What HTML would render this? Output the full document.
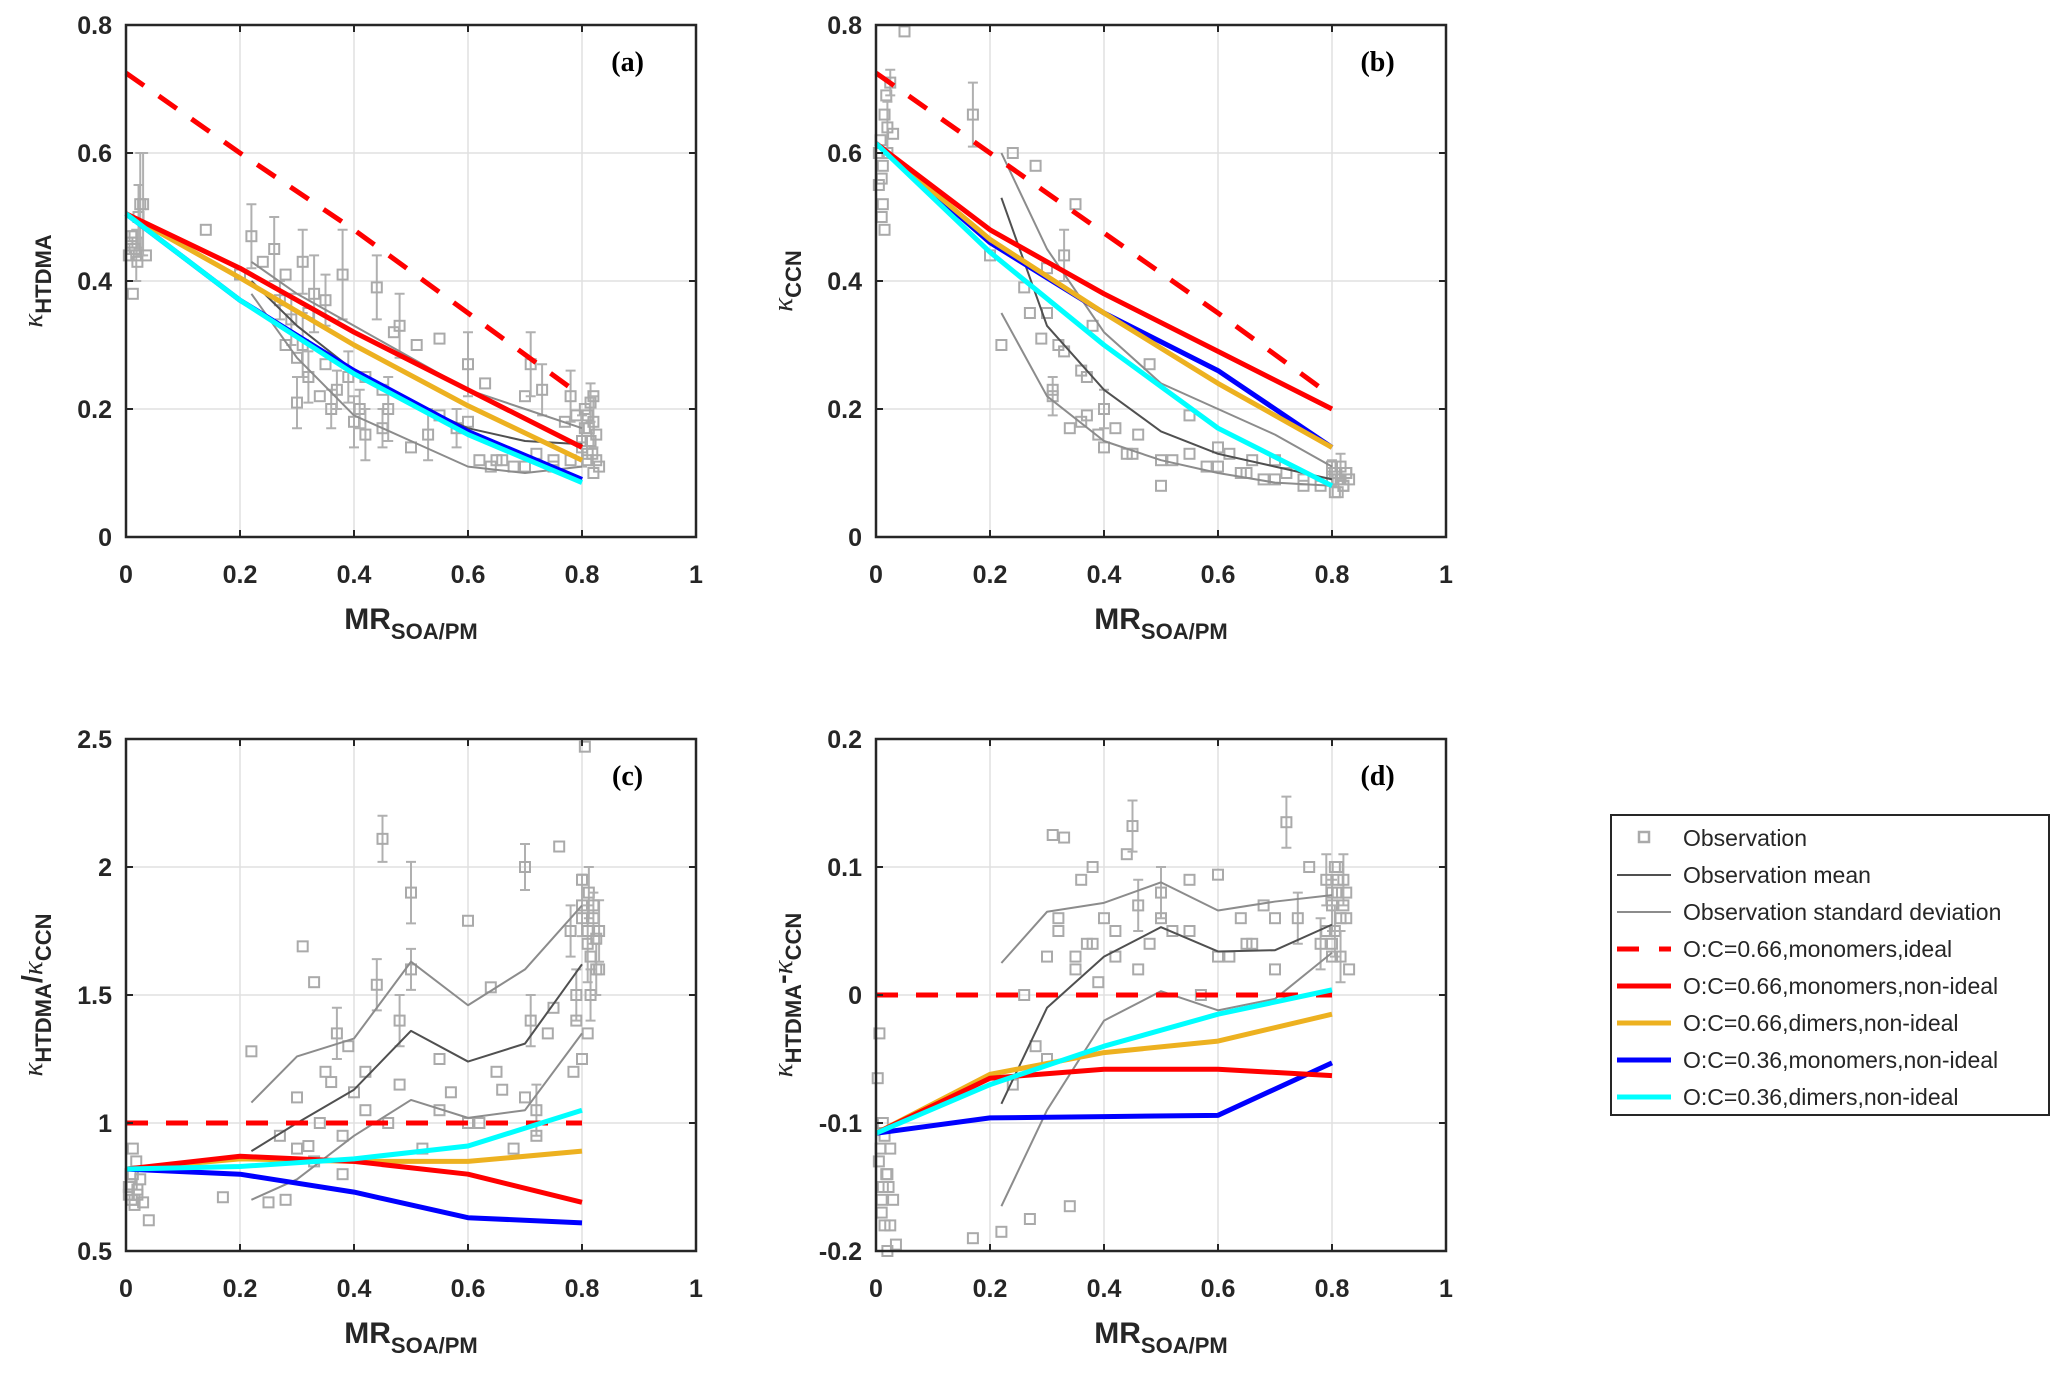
<!DOCTYPE html>
<html><head><meta charset="utf-8"><style>
html,body{margin:0;padding:0;background:#fff;}
svg{display:block;font-family:"Liberation Sans",Arial,sans-serif;}
</style></head><body>
<svg id="fig" width="2067" height="1374" viewBox="0 0 2067 1374" xmlns="http://www.w3.org/2000/svg"></svg>
<script>
const modelX=[0,0.2,0.4,0.6,0.8];
const statX=[0.22,0.3,0.4,0.5,0.6,0.7,0.8];
// panel a
const aIdeal=[0.725,0.6,0.48,0.35,0.22];
const aRed=[0.505,0.42,0.32,0.23,0.14];
const aOrange=[0.505,0.405,0.30,0.205,0.12];
const aBlue=[0.505,0.37,0.26,0.165,0.09];
const aCyan=[0.505,0.37,0.255,0.16,0.085];
const aMean=[0.40,0.33,0.26,0.21,0.17,0.15,0.145];
const aUp=[0.43,0.38,0.33,0.28,0.23,0.20,0.17];
const aLo=[0.38,0.28,0.19,0.15,0.11,0.10,0.11];
const aObsX=[0.01,0.012,0.015,0.018,0.02,0.022,0.025,0.03,0.035,0.14,0.2,0.22,0.24,0.26,0.27,0.28,0.29,0.3,0.31,0.31,0.32,0.33,0.34,0.35,0.36,0.37,0.38,0.39,0.4,0.41,0.42,0.44,0.45,0.46,0.47,0.48,0.5,0.51,0.53,0.55,0.58,0.6,0.62,0.63,0.64,0.66,0.68,0.7,0.71,0.72,0.73,0.75,0.77,0.78,0.79,0.8,0.805,0.81,0.812,0.815,0.818,0.82,0.825,0.83,
 0.8,0.81,0.82,0.815,0.825,0.805,0.82,0.81,0.005,0.01,0.015,0.02,0.01,0.28,0.3,0.32,0.35,0.42,0.45,0.55,0.6,0.65,0.7,0.75,0.78];
const aObsY=[0.45,0.38,0.47,0.44,0.46,0.5,0.52,0.52,0.44,0.48,0.41,0.47,0.43,0.45,0.37,0.41,0.34,0.21,0.3,0.43,0.25,0.38,0.22,0.37,0.2,0.23,0.41,0.25,0.18,0.2,0.16,0.39,0.17,0.2,0.32,0.33,0.14,0.3,0.16,0.31,0.17,0.27,0.12,0.24,0.11,0.12,0.11,0.22,0.27,0.13,0.23,0.11,0.18,0.22,0.19,0.15,0.2,0.12,0.17,0.21,0.13,0.18,0.16,0.11,
 0.14,0.19,0.22,0.15,0.12,0.17,0.1,0.13,0.44,0.46,0.45,0.43,0.47,0.3,0.28,0.35,0.27,0.25,0.23,0.19,0.18,0.12,0.11,0.12,0.12];
const aErr=[0,0,0,0.04,0,0.05,0.08,0.08,0,0,0,0.05,0,0.05,0.03,0,0.04,0.04,0.05,0.05,0.04,0.06,0,0.04,0.03,0.03,0.07,0.04,0.04,0.03,0.04,0.05,0.03,0.05,0,0.05,0,0,0.04,0,0.03,0.05,0,0,0,0,0,0,0.05,0,0.04,0,0,0.04,0,0.04,0,0,0,0.03,0,0.04,0,0];
// panel b
const bIdeal=[0.725,0.6,0.475,0.35,0.22];
const bRed=[0.615,0.48,0.38,0.29,0.2];
const bOrange=[0.615,0.465,0.35,0.24,0.14];
const bBlue=[0.615,0.46,0.35,0.26,0.14];
const bCyan=[0.615,0.445,0.30,0.17,0.08];
const bMean=[0.53,0.33,0.23,0.165,0.13,0.11,0.09];
const bUp=[0.60,0.45,0.32,0.24,0.20,0.16,0.11];
const bLo=[0.35,0.22,0.15,0.12,0.10,0.085,0.08];
const bObsX=[0.005,0.008,0.01,0.012,0.015,0.018,0.02,0.025,0.03,0.05,0.17,0.2,0.22,0.24,0.26,0.27,0.28,0.29,0.3,0.31,0.32,0.33,0.34,0.35,0.36,0.37,0.38,0.39,0.4,0.42,0.44,0.46,0.48,0.5,0.52,0.55,0.58,0.6,0.62,0.64,0.66,0.68,0.7,0.72,0.75,0.78,0.8,0.805,0.81,0.815,0.82,0.825,0.83,
 0.005,0.01,0.012,0.02,0.015,0.8,0.81,0.82,0.805,0.815,0.825,0.8,0.3,0.31,0.33,0.36,0.37,0.4,0.45,0.5,0.55,0.6,0.65,0.7,0.75];
const bObsY=[0.55,0.62,0.5,0.58,0.48,0.69,0.64,0.71,0.63,0.79,0.66,0.44,0.3,0.6,0.39,0.35,0.58,0.31,0.42,0.22,0.3,0.44,0.17,0.52,0.26,0.19,0.33,0.16,0.2,0.17,0.13,0.16,0.27,0.08,0.12,0.19,0.11,0.14,0.13,0.1,0.12,0.09,0.12,0.1,0.09,0.08,0.1,0.07,0.09,0.11,0.08,0.1,0.09,
 0.6,0.56,0.52,0.6,0.66,0.09,0.07,0.08,0.1,0.09,0.1,0.11,0.35,0.23,0.29,0.18,0.25,0.14,0.13,0.12,0.13,0.11,0.1,0.09,0.08];
const bErr=[0,0,0,0,0,0,0.04,0.02,0,0,0.05,0,0,0,0,0,0,0,0,0.03,0,0.04,0,0,0,0,0,0,0.03,0,0,0,0,0,0,0,0,0,0,0,0,0,0,0,0,0,0.02,0,0,0.02,0,0,0];
// panel c
const cIdeal=[1,1,1,1,1];
const cRed=[0.82,0.87,0.85,0.80,0.69];
const cOrange=[0.82,0.86,0.85,0.85,0.89];
const cBlue=[0.82,0.80,0.73,0.63,0.61];
const cCyan=[0.82,0.83,0.86,0.91,1.05];
const cMean=[0.89,1.0,1.13,1.36,1.24,1.31,1.62];
const cUp=[1.08,1.26,1.33,1.63,1.46,1.6,1.85];
const cLo=[0.70,0.78,0.95,1.09,1.02,1.05,1.35];
const cObsX=[0.005,0.008,0.01,0.012,0.015,0.018,0.02,0.025,0.03,0.04,0.17,0.22,0.25,0.27,0.28,0.3,0.31,0.32,0.33,0.34,0.35,0.36,0.37,0.38,0.39,0.4,0.42,0.44,0.45,0.46,0.48,0.5,0.5,0.52,0.55,0.57,0.6,0.62,0.64,0.66,0.68,0.7,0.71,0.72,0.74,0.76,0.78,0.79,0.8,0.805,0.81,0.812,0.815,0.82,0.825,0.83,0.81,0.8,
 0.005,0.01,0.015,0.02,0.012,0.8,0.81,0.82,0.815,0.8,0.825,0.83,0.79,0.8,0.785,0.3,0.33,0.38,0.42,0.48,0.55,0.6,0.65,0.7,0.72,0.75];
const cObsY=[0.75,0.8,0.7,0.9,0.68,0.85,0.72,0.78,0.69,0.62,0.71,1.28,0.69,0.95,0.7,1.1,1.69,0.91,1.55,1.0,1.2,1.16,1.35,0.8,1.3,1.12,1.2,1.54,2.11,1.0,1.4,1.9,1.6,0.9,1.25,1.12,1.79,1.0,1.53,1.13,0.9,2.0,1.4,1.05,1.35,2.08,1.75,1.5,1.85,2.47,1.7,1.9,1.5,1.8,1.6,1.75,1.35,1.25,
 0.72,0.76,0.7,0.74,0.8,1.8,1.75,1.85,1.65,1.95,1.72,1.6,1.4,1.25,1.2,0.9,0.85,0.95,1.05,1.15,1.05,1.0,1.2,1.1,0.95,1.45];
const cErr=[0,0,0,0,0,0,0,0,0,0,0,0,0,0,0,0,0,0,0,0,0,0,0.1,0,0,0,0,0.1,0.09,0,0.1,0.12,0.08,0,0,0,0,0,0,0,0,0.09,0.1,0.1,0,0,0.1,0.1,0.12,0,0.15,0.1,0.1,0.1,0.1,0.12,0,0];
// panel d
const dIdeal=[0,0,0,0,0];
const dRed=[-0.108,-0.065,-0.058,-0.058,-0.063];
const dOrange=[-0.108,-0.062,-0.045,-0.036,-0.015];
const dBlue=[-0.108,-0.096,-0.095,-0.094,-0.053];
const dCyan=[-0.108,-0.07,-0.04,-0.015,0.004];
const dMean=[-0.085,-0.01,0.03,0.053,0.034,0.035,0.055];
const dUp=[0.025,0.065,0.072,0.088,0.066,0.073,0.078];
const dLo=[-0.165,-0.09,-0.02,0.003,-0.012,-0.003,0.033];
const dObsX=[0.003,0.006,0.008,0.01,0.012,0.015,0.018,0.02,0.022,0.025,0.03,0.035,0.17,0.22,0.24,0.26,0.27,0.28,0.3,0.31,0.32,0.33,0.34,0.35,0.36,0.37,0.38,0.39,0.4,0.42,0.44,0.45,0.46,0.48,0.5,0.52,0.55,0.57,0.6,0.62,0.64,0.66,0.68,0.7,0.72,0.74,0.76,0.78,0.79,0.8,0.805,0.81,0.815,0.82,0.825,0.83,0.81,0.8,
 0.005,0.01,0.015,0.02,0.025,0.012,0.8,0.81,0.82,0.805,0.815,0.825,0.8,0.79,0.3,0.32,0.35,0.38,0.42,0.46,0.5,0.55,0.6,0.65,0.7];
const dObsY=[-0.065,-0.03,-0.12,-0.16,-0.1,-0.18,-0.14,-0.2,-0.15,-0.12,-0.16,-0.195,-0.19,-0.185,-0.07,0.0,-0.175,-0.04,0.03,0.125,0.05,0.123,-0.165,0.02,0.09,0.04,0.1,0.01,0.06,0.03,0.11,0.132,0.07,0.04,0.08,0.05,0.09,0.0,0.094,0.03,0.06,0.04,0.07,0.02,0.135,0.06,0.1,0.04,0.09,0.07,0.05,0.08,0.03,0.09,0.06,0.02,0.1,0.04,
 -0.13,-0.17,-0.11,-0.14,-0.18,-0.15,0.08,0.09,0.07,0.1,0.06,0.08,0.03,0.05,-0.05,0.06,0.03,0.04,0.05,0.02,0.06,0.05,0.03,0.04,0.06];
const dErr=[0,0,0,0,0,0,0,0,0,0,0,0,0,0,0,0,0,0,0,0,0,0,0,0,0,0,0,0,0,0,0,0.02,0.02,0,0.02,0,0,0,0,0,0,0,0,0,0.02,0.02,0,0.02,0.02,0.02,0.02,0,0.02,0.02,0,0,0,0];

const NS='http://www.w3.org/2000/svg';
const svg=document.getElementById('fig');
function mk(tag,attrs,parent){const e=document.createElementNS(NS,tag);for(const k in attrs)e.setAttribute(k,attrs[k]);(parent||svg).appendChild(e);return e;}

function panel(cfg){
  const g=mk('g',{});
  
  
  const L=cfg.x0,R=cfg.x0+570,T=cfg.top,B=cfg.top+512;
  const sx=v=>L+v*(R-L);
  const sy=v=>B-(v-cfg.ymin)/(cfg.ymax-cfg.ymin)*(B-T);
  [0.2,0.4,0.6,0.8].forEach(v=>{const l=mk('line',{x1:sx(v),x2:sx(v),y1:T,y2:B,stroke:'#e0e0e0','stroke-width':1.5},g);});
  cfg.yticks.forEach(v=>{const l=mk('line',{x1:L,x2:R,y1:sy(v),y2:sy(v),stroke:'#e0e0e0','stroke-width':1.5},g);});
  const obs=mk('g',{},g);
  
  
  cfg.ox.forEach((xv,i)=>{
    const px=sx(xv),py=sy(cfg.oy[i]),e=cfg.oe[i]||0;
    if(e>0){
      const d=(e/(cfg.ymax-cfg.ymin))*(B-T);
      const eb=mk('path',{d:`M${px},${py-d}V${py+d}M${px-5},${py-d}H${px+5}M${px-5},${py+d}H${px+5}`,stroke:'#b0b0b0','stroke-width':2,fill:'none'},obs);
      
      
    }
    const r=mk('rect',{x:px-5,y:py-5,width:10,height:10,fill:'none',stroke:'#aaaaaa','stroke-width':2},obs);
    
    
  });
  function line(xs,ys,col,w,name,dash){
    const p=mk('polyline',{points:xs.map((x,i)=>sx(x)+','+sy(ys[i])).join(' '),fill:'none',stroke:col,'stroke-width':w,'stroke-linejoin':'round'},g);
    if(dash)p.setAttribute('stroke-dasharray',dash);
    
    
  }
  line(statX,cfg.up,'#8c8c8c',2,'std-upper-line');
  line(statX,cfg.lo,'#8c8c8c',2,'std-lower-line');
  line(statX,cfg.mean,'#505050',2,'mean-line');
  line(modelX,cfg.ideal,'#ff0000',5,'oc066-monomers-ideal-line','22,18');
  line(modelX,cfg.blue,'#0000ff',5,'oc036-monomers-nonideal-line');
  line(modelX,cfg.orange,'#edb120',5,'oc066-dimers-nonideal-line');
  line(modelX,cfg.red,'#ff0000',5,'oc066-monomers-nonideal-line');
  line(modelX,cfg.cyan,'#00ffff',5,'oc036-dimers-nonideal-line');
  const bx=mk('rect',{x:L,y:T,width:R-L,height:B-T,fill:'none',stroke:'#262626','stroke-width':2.5},g);
  
  
  const xt=[0,0.2,0.4,0.6,0.8,1],xtl=['0','0.2','0.4','0.6','0.8','1'];
  xt.forEach((v,i)=>{
    mk('path',{d:`M${sx(v)},${B}v-7M${sx(v)},${T}v7`,stroke:'#262626','stroke-width':2},g);
    const t=mk('text',{x:sx(v),y:B+46,'text-anchor':'middle','font-size':25,'font-weight':'bold',fill:'#262626'},g);
    t.textContent=xtl[i];
    
    
  });
  cfg.yticks.forEach((v,i)=>{
    mk('path',{d:`M${L},${sy(v)}h7M${R},${sy(v)}h-7`,stroke:'#262626','stroke-width':2},g);
    const t=mk('text',{x:L-14,y:sy(v)+9,'text-anchor':'end','font-size':25,'font-weight':'bold',fill:'#262626'},g);
    t.textContent=cfg.ytl[i];
    
    
  });
  const xl=mk('text',{x:(L+R)/2,y:B+92,'text-anchor':'middle','font-size':30,'font-weight':'bold',fill:'#262626'},g);
  xl.innerHTML='MR<tspan font-size="22" dy="10">SOA/PM</tspan>';
  
  
  const cy=(T+B)/2;
  const yl=mk('text',{x:0,y:0,transform:`translate(${L-84},${cy}) rotate(-90)`,'text-anchor':'middle','font-size':29,'font-weight':'bold',fill:'#262626'},g);
  yl.innerHTML=cfg.ylab;
  
  
  const pl=mk('text',{x:sx(0.88),y:T+46,'text-anchor':'middle','font-size':28,'font-weight':'bold','font-family':'Liberation Serif, serif',fill:'#000'},g);
  pl.textContent='('+cfg.id+')';
  
  
}
const k='<tspan font-family="Liberation Serif, serif" font-style="italic" font-weight="normal">κ</tspan>';
const sub=s=>`<tspan font-size="22" dy="9">${s}</tspan>`;
panel({id:'a',x0:126,top:25,ymin:0,ymax:0.8,yticks:[0,0.2,0.4,0.6,0.8],ytl:['0','0.2','0.4','0.6','0.8'],ylab:k+sub('HTDMA'),
  ideal:aIdeal,red:aRed,orange:aOrange,blue:aBlue,cyan:aCyan,mean:aMean,up:aUp,lo:aLo,ox:aObsX,oy:aObsY,oe:aErr});
panel({id:'b',x0:876,top:25,ymin:0,ymax:0.8,yticks:[0,0.2,0.4,0.6,0.8],ytl:['0','0.2','0.4','0.6','0.8'],ylab:k+sub('CCN'),
  ideal:bIdeal,red:bRed,orange:bOrange,blue:bBlue,cyan:bCyan,mean:bMean,up:bUp,lo:bLo,ox:bObsX,oy:bObsY,oe:bErr});
panel({id:'c',x0:126,top:739,ymin:0.5,ymax:2.5,yticks:[0.5,1,1.5,2,2.5],ytl:['0.5','1','1.5','2','2.5'],ylab:k+sub('HTDMA')+'<tspan dy="-9">/</tspan>'+k+sub('CCN'),
  ideal:cIdeal,red:cRed,orange:cOrange,blue:cBlue,cyan:cCyan,mean:cMean,up:cUp,lo:cLo,ox:cObsX,oy:cObsY,oe:cErr});
panel({id:'d',x0:876,top:739,ymin:-0.2,ymax:0.2,yticks:[-0.2,-0.1,0,0.1,0.2],ytl:['-0.2','-0.1','0','0.1','0.2'],ylab:k+sub('HTDMA')+'<tspan dy="-9">-</tspan>'+k+sub('CCN'),
  ideal:dIdeal,red:dRed,orange:dOrange,blue:dBlue,cyan:dCyan,mean:dMean,up:dUp,lo:dLo,ox:dObsX,oy:dObsY,oe:dErr});

const lg=mk('g',{});


mk('rect',{x:1611,y:815,width:438,height:300,fill:'#fff',stroke:'#262626','stroke-width':2},lg);
const legLabels=['Observation','Observation mean','Observation standard deviation','O:C=0.66,monomers,ideal','O:C=0.66,monomers,non-ideal','O:C=0.66,dimers,non-ideal','O:C=0.36,monomers,non-ideal','O:C=0.36,dimers,non-ideal'];
const legCols=['#aaaaaa','#505050','#8c8c8c','#ff0000','#ff0000','#edb120','#0000ff','#00ffff'];
legLabels.forEach((s,i)=>{
  const y=838+i*37;
  const e=mk('g',{},lg);
  
  
  if(i===0) mk('rect',{x:1639,y:y-6,width:10,height:10,fill:'none',stroke:'#aaa','stroke-width':2.5},e);
  else if(i<3) mk('line',{x1:1617,x2:1671,y1:y,y2:y,stroke:legCols[i],'stroke-width':2},e);
  else if(i===3) mk('line',{x1:1617,x2:1671,y1:y,y2:y,stroke:legCols[i],'stroke-width':5,'stroke-dasharray':'22,20'},e);
  else mk('line',{x1:1617,x2:1671,y1:y,y2:y,stroke:legCols[i],'stroke-width':5},e);
  const t=mk('text',{x:1683,y:y+8,'font-size':23,fill:'#262626'},e);
  t.textContent=s;
});
</script>
</body></html>
